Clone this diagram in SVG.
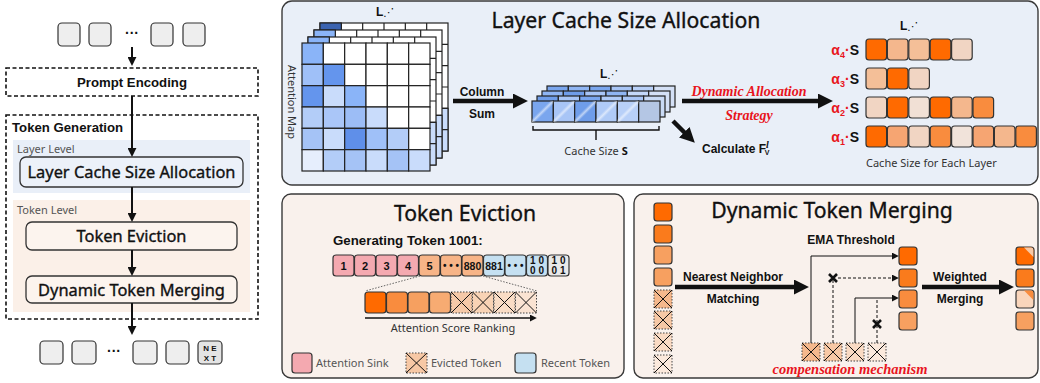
<svg xmlns="http://www.w3.org/2000/svg" xmlns:xlink="http://www.w3.org/1999/xlink" width="1040" height="383" viewBox="0 0 1040 383">
<style>
.tok{fill:#eeeeee;stroke:#333;stroke-width:1.2}
.dash{fill:none;stroke:#111;stroke-width:1.6;stroke-dasharray:4 2.5}
.box{stroke:#333;stroke-width:1.3}
.panel{stroke:#3a3a3a;stroke-width:1.4}
.b{font-family:"Liberation Sans",Arial,sans-serif;font-weight:bold;fill:#111}
.n{font-family:"Noto Sans","Open Sans",sans-serif;fill:#111;stroke:#111;stroke-width:0.35}
.s{font-family:"Noto Sans","Open Sans",sans-serif;fill:#333;font-size:11px}
.red{font-family:"Liberation Serif","Times New Roman",serif;font-weight:bold;font-style:italic;fill:#e8141c}
.c{stroke:#222;stroke-width:1.2}
.k{stroke:#333;stroke-width:1.2}
.ev{stroke:#444;stroke-width:1;stroke-dasharray:1.5 1.5}
.x{fill:none;stroke:#111;stroke-width:1}
.ln{fill:none;stroke:#111}
</style>
<defs>
<marker id="big" viewBox="0 0 14 14" markerUnits="userSpaceOnUse" markerWidth="15" markerHeight="15" refX="1" refY="7" orient="auto"><path d="M0,0L14,7L0,14z" fill="#111"/></marker>
<marker id="mid" viewBox="0 0 8 8" markerUnits="userSpaceOnUse" markerWidth="9" markerHeight="9" refX="1" refY="4" orient="auto"><path d="M0,0L8,4L0,8z" fill="#111"/></marker>
<marker id="sm" viewBox="0 0 6 6" markerUnits="userSpaceOnUse" markerWidth="7" markerHeight="7" refX="1" refY="3" orient="auto"><path d="M0,0L6,3L0,6z" fill="#111"/></marker>
<linearGradient id="gloss" x1="0" y1="0" x2="1" y2="1">
<stop offset="0" stop-color="#fff" stop-opacity="0"/>
<stop offset="0.42" stop-color="#fff" stop-opacity="0"/>
<stop offset="0.5" stop-color="#fff" stop-opacity="0.55"/>
<stop offset="0.58" stop-color="#fff" stop-opacity="0"/>
<stop offset="1" stop-color="#fff" stop-opacity="0"/>
</linearGradient>
<g id="bg6">
<rect x="0" y="0" width="128" height="128" fill="#fff" class="c"/>
<rect x="106.67" y="85.33" width="21.33" height="42.67" fill="#c9dcfb" class="c"/>
<path d="M21.33 0V128M42.67 0V128M64 0V128M85.33 0V128M106.67 0V128M0 21.33H128M0 42.67H128M0 64H128M0 85.33H128M0 106.67H128" class="c" fill="none"/>
</g>
<g id="evx">
<path d="M0 0L21 21M21 0L0 21" class="x"/>
</g>
<g id="mx">
<path d="M0 0L18 18M18 0L0 18" class="x"/>
</g>
</defs>

<!-- LEFT PANEL -->
<g id="input-tokens">
<rect class="tok" x="58" y="23" width="22" height="23" rx="4"/>
<rect class="tok" x="89" y="23" width="22" height="23" rx="4"/>
<text class="b" x="132" y="38" font-size="14" text-anchor="middle">···</text>
<rect class="tok" x="151" y="23" width="22" height="23" rx="4"/>
<rect class="tok" x="183" y="23" width="22" height="23" rx="4"/>
</g>
<g id="prompt-encoding">
<rect class="dash" x="6" y="68" width="252" height="28"/>
<text class="b" x="132" y="87" font-size="13.2" text-anchor="middle">Prompt Encoding</text>
</g>
<g id="token-generation">
<rect class="dash" x="6" y="115" width="252" height="204"/>
<text class="b" x="12" y="132" font-size="13.2">Token Generation</text>
<rect x="13" y="140" width="237" height="53" fill="#e9eff8"/>
<text class="s" x="17" y="153" style="fill:#555">Layer Level</text>
<rect x="13" y="200" width="237" height="112" fill="#fbf0e8"/>
<text class="s" x="17" y="214" style="fill:#555">Token Level</text>
</g>
<g id="left-lcsa">
<rect class="box" x="20" y="157" width="223" height="30" rx="6" fill="#ecf1f9"/>
<text class="n" x="131.5" y="177.5" font-size="16.4" text-anchor="middle" stroke-width="0.3">Layer Cache Size Allocation</text>
</g>
<g id="left-eviction">
<rect class="box" x="26" y="222" width="211" height="28" rx="6" fill="#fcf4ee"/>
<text class="n" x="131.5" y="242" font-size="16.4" text-anchor="middle" stroke-width="0.3">Token Eviction</text>
</g>
<g id="left-merging">
<rect class="box" x="26" y="276" width="211" height="27" rx="6" fill="#fcf4ee"/>
<text class="n" x="131.5" y="295.5" font-size="16.4" text-anchor="middle" stroke-width="0.3">Dynamic Token Merging</text>
</g>
<g id="output-tokens">
<rect class="tok" x="40" y="341" width="23" height="23" rx="4"/>
<rect class="tok" x="72" y="341" width="24" height="23" rx="4"/>
<text class="b" x="114" y="356" font-size="14" text-anchor="middle">···</text>
<rect class="tok" x="133" y="341" width="24" height="23" rx="4"/>
<rect class="tok" x="166" y="341" width="23" height="23" rx="4"/>
<rect class="tok" x="198" y="341" width="24" height="23" rx="4" style="fill:#e4e4e4"/>
<text class="b" x="210" y="351" font-size="8" text-anchor="middle">N E</text>
<text class="b" x="210" y="361" font-size="8" text-anchor="middle">X T</text>
</g>
<g id="left-connectors" class="ln" stroke-width="2">
<line x1="132" y1="47" x2="132" y2="58" marker-end="url(#mid)"/>
<line x1="132" y1="96" x2="132" y2="149" marker-end="url(#mid)"/>
<line x1="132" y1="187" x2="132" y2="214" marker-end="url(#mid)"/>
<line x1="132" y1="250" x2="132" y2="268" marker-end="url(#mid)"/>
<line x1="132" y1="303" x2="132" y2="327" marker-end="url(#mid)"/>
</g>

<!-- TOP PANEL -->
<g id="panel-lcsa">
<rect class="panel" x="282" y="1" width="756" height="184" rx="10" fill="#e9eff8"/>
<text class="n" x="626" y="28" font-size="21.2" text-anchor="middle">Layer Cache Size Allocation</text>
</g>
<g id="attention-map">
<use xlink:href="#bg6" href="#bg6" x="320" y="23"/>
<rect x="320" y="23" width="21.33" height="21.33" fill="#3b63b0" class="c"/>
<use xlink:href="#bg6" href="#bg6" x="314" y="30"/>
<rect x="314" y="30" width="21.33" height="21.33" fill="#8ab4f8" class="c"/>
<use xlink:href="#bg6" href="#bg6" x="308" y="37"/>
<rect x="308" y="37" width="21.33" height="21.33" fill="#8ab4f8" class="c"/>
<g class="c">
<rect x="302" y="43" width="21.33" height="21.33" fill="#8ab4f8"/><rect x="323.33" y="43" width="21.33" height="21.33" fill="#fff"/><rect x="344.67" y="43" width="21.33" height="21.33" fill="#fff"/><rect x="366" y="43" width="21.33" height="21.33" fill="#fff"/><rect x="387.33" y="43" width="21.33" height="21.33" fill="#fff"/><rect x="408.67" y="43" width="21.33" height="21.33" fill="#fff"/>
<rect x="302" y="64.33" width="21.33" height="21.33" fill="#9fc0f8"/><rect x="323.33" y="64.33" width="21.33" height="21.33" fill="#6495ed"/><rect x="344.67" y="64.33" width="21.33" height="21.33" fill="#fff"/><rect x="366" y="64.33" width="21.33" height="21.33" fill="#fff"/><rect x="387.33" y="64.33" width="21.33" height="21.33" fill="#fff"/><rect x="408.67" y="64.33" width="21.33" height="21.33" fill="#fff"/>
<rect x="302" y="85.67" width="21.33" height="21.33" fill="#6495ed"/><rect x="323.33" y="85.67" width="21.33" height="21.33" fill="#c9dcfb"/><rect x="344.67" y="85.67" width="21.33" height="21.33" fill="#8ab4f8"/><rect x="366" y="85.67" width="21.33" height="21.33" fill="#fff"/><rect x="387.33" y="85.67" width="21.33" height="21.33" fill="#fff"/><rect x="408.67" y="85.67" width="21.33" height="21.33" fill="#fff"/>
<rect x="302" y="107" width="21.33" height="21.33" fill="#b3cdf8"/><rect x="323.33" y="107" width="21.33" height="21.33" fill="#aac6f8"/><rect x="344.67" y="107" width="21.33" height="21.33" fill="#9cbdf6"/><rect x="366" y="107" width="21.33" height="21.33" fill="#c9dcfb"/><rect x="387.33" y="107" width="21.33" height="21.33" fill="#fff"/><rect x="408.67" y="107" width="21.33" height="21.33" fill="#fff"/>
<rect x="302" y="128.33" width="21.33" height="21.33" fill="#a5c3f6"/><rect x="323.33" y="128.33" width="21.33" height="21.33" fill="#c9dcfb"/><rect x="344.67" y="128.33" width="21.33" height="21.33" fill="#5f8fe9"/><rect x="366" y="128.33" width="21.33" height="21.33" fill="#9fc0f8"/><rect x="387.33" y="128.33" width="21.33" height="21.33" fill="#b3cdf8"/><rect x="408.67" y="128.33" width="21.33" height="21.33" fill="#fff"/>
<rect x="302" y="149.67" width="21.33" height="21.33" fill="#e6eefd"/><rect x="323.33" y="149.67" width="21.33" height="21.33" fill="#b3cdf8"/><rect x="344.67" y="149.67" width="21.33" height="21.33" fill="#a5c3f6"/><rect x="366" y="149.67" width="21.33" height="21.33" fill="#c9dcfb"/><rect x="387.33" y="149.67" width="21.33" height="21.33" fill="#a5c3f6"/><rect x="408.67" y="149.67" width="21.33" height="21.33" fill="#c9dcfb"/>
</g>
<text class="b" x="376" y="16" font-size="12">L<tspan font-family="DejaVu Sans" font-weight="normal" font-size="11">⋰</tspan></text>
<text class="s" x="0" y="0" transform="translate(288,102) rotate(90)" text-anchor="middle">Attention Map</text>
</g>
<g id="cache-stack">
<g class="c">
<rect x="547" y="86" width="21.33" height="21" fill="#7aa6ee"/><rect x="568.33" y="86" width="21.33" height="21" fill="#8fb5f3"/><rect x="589.67" y="86" width="21.33" height="21" fill="#7aa6ee"/><rect x="611" y="86" width="21.33" height="21" fill="#a8c5f6"/><rect x="632.33" y="86" width="21.33" height="21" fill="#b8d0f8"/><rect x="653.67" y="86" width="21.33" height="21" fill="#d4e0f6"/>
<rect x="542" y="91" width="21.33" height="21" fill="#8fb5f3"/><rect x="563.33" y="91" width="21.33" height="21" fill="#6f9de9"/><rect x="584.67" y="91" width="21.33" height="21" fill="#a8c5f6"/><rect x="606" y="91" width="21.33" height="21" fill="#8fb5f3"/><rect x="627.33" y="91" width="21.33" height="21" fill="#c4d8f9"/><rect x="648.67" y="91" width="21.33" height="21" fill="#d4e0f6"/>
<rect x="537" y="96" width="21.33" height="21" fill="#6f9de9"/><rect x="558.33" y="96" width="21.33" height="21" fill="#a8c5f6"/><rect x="579.67" y="96" width="21.33" height="21" fill="#7aa6ee"/><rect x="601" y="96" width="21.33" height="21" fill="#b0cbf7"/><rect x="622.33" y="96" width="21.33" height="21" fill="#a8c5f6"/><rect x="643.67" y="96" width="21.33" height="21" fill="#c9daf5"/>
<rect x="532" y="101" width="21.33" height="21" fill="#7aa6ee"/><rect x="553.33" y="101" width="21.33" height="21" fill="#a8c5f6"/><rect x="574.67" y="101" width="21.33" height="21" fill="#6f9de9"/><rect x="596" y="101" width="21.33" height="21" fill="#b0cbf7"/><rect x="617.33" y="101" width="21.33" height="21" fill="#b8d0f8"/><rect x="638.67" y="101" width="21.33" height="21" fill="#b4c6e4"/>
</g>
<g fill="url(#gloss)">
<rect x="532" y="101" width="21.33" height="21"/><rect x="553.33" y="101" width="21.33" height="21"/><rect x="574.67" y="101" width="21.33" height="21"/><rect x="596" y="101" width="21.33" height="21"/><rect x="617.33" y="101" width="21.33" height="21"/>
</g>
<path d="M533 126V130H659V126M596 130V140" class="ln" stroke-width="1.4"/>
<text class="s" x="596" y="155" text-anchor="middle">Cache Size <tspan font-weight="bold" fill="#111">S</tspan></text>
<text class="b" x="600" y="78" font-size="12">L<tspan font-family="DejaVu Sans" font-weight="normal" font-size="11">⋰</tspan></text>
</g>
<g id="layer-bars">
<text class="b" x="900" y="30" font-size="12">L<tspan font-family="DejaVu Sans" font-weight="normal" font-size="11">⋰</tspan></text>
<g class="k">
<rect x="866" y="39" width="20.6" height="21" rx="3" fill="#ff6a00"/><rect x="887.4" y="39" width="20.6" height="21" rx="3" fill="#f4b78d"/><rect x="908.8" y="39" width="20.6" height="21" rx="3" fill="#f4bf98"/><rect x="930.2" y="39" width="20.6" height="21" rx="3" fill="#ff6a00"/><rect x="951.6" y="39" width="20.6" height="21" rx="3" fill="#f1d5c3"/>
<rect x="866" y="68" width="20.6" height="21" rx="3" fill="#f4bf98"/><rect x="887.4" y="68" width="20.6" height="21" rx="3" fill="#ff6a00"/><rect x="908.8" y="68" width="20.6" height="21" rx="3" fill="#f1d5c3"/>
<rect x="866" y="97" width="20.6" height="21" rx="3" fill="#f1d5c3"/><rect x="887.4" y="97" width="20.6" height="21" rx="3" fill="#ff6a00"/><rect x="908.8" y="97" width="20.6" height="21" rx="3" fill="#f1e0d5"/><rect x="930.2" y="97" width="20.6" height="21" rx="3" fill="#ff6a00"/><rect x="951.6" y="97" width="20.6" height="21" rx="3" fill="#f4b78d"/><rect x="973" y="97" width="20.6" height="21" rx="3" fill="#f98c3e"/>
<rect x="866" y="126" width="20.6" height="21" rx="3" fill="#ff6a00"/><rect x="887.4" y="126" width="20.6" height="21" rx="3" fill="#f6a572"/><rect x="908.8" y="126" width="20.6" height="21" rx="3" fill="#f1d5c3"/><rect x="930.2" y="126" width="20.6" height="21" rx="3" fill="#f98c3e"/><rect x="951.6" y="126" width="20.6" height="21" rx="3" fill="#f1e3da"/><rect x="973" y="126" width="20.6" height="21" rx="3" fill="#f6a572"/><rect x="994.4" y="126" width="20.6" height="21" rx="3" fill="#f4b78d"/><rect x="1015.8" y="126" width="20.6" height="21" rx="3" fill="#f98c3e"/>
</g>
<g class="b" font-size="14" text-anchor="end">
<text x="859" y="55"><tspan fill="#e8141c">α</tspan><tspan fill="#e8141c" font-size="9" dy="3">4</tspan><tspan fill="#e8141c" dy="-3">·</tspan>S</text>
<text x="859" y="84"><tspan fill="#e8141c">α</tspan><tspan fill="#e8141c" font-size="9" dy="3">3</tspan><tspan fill="#e8141c" dy="-3">·</tspan>S</text>
<text x="859" y="113"><tspan fill="#e8141c">α</tspan><tspan fill="#e8141c" font-size="9" dy="3">2</tspan><tspan fill="#e8141c" dy="-3">·</tspan>S</text>
<text x="859" y="142"><tspan fill="#e8141c">α</tspan><tspan fill="#e8141c" font-size="9" dy="3">1</tspan><tspan fill="#e8141c" dy="-3">·</tspan>S</text>
</g>
<text class="s" x="866" y="167">Cache Size for Each Layer</text>
</g>
<g id="lcsa-labels">
<text class="b" x="482" y="96" font-size="12" text-anchor="middle">Column</text>
<text class="b" x="482" y="118" font-size="12" text-anchor="middle">Sum</text>
<text class="red" x="749" y="96" font-size="14" text-anchor="middle">Dynamic Allocation</text>
<text class="red" x="749" y="120" font-size="14" text-anchor="middle">Strategy</text>
<text class="b" x="702" y="153" font-size="12">Calculate F<tspan font-style="italic" font-family="Liberation Serif" font-size="10" dy="-5">l</tspan><tspan font-size="7" dx="-4" dy="7">V</tspan></text>
</g>

<!-- TOKEN EVICTION -->
<g id="panel-eviction">
<rect class="panel" x="282" y="194" width="342" height="184" rx="9" fill="#f9f1ec"/>
<text class="n" x="465" y="221" font-size="21.2" text-anchor="middle">Token Eviction</text>
<text class="b" x="333" y="245" font-size="13.3">Generating Token 1001:</text>
<g class="k">
<rect x="333" y="255" width="21" height="21" rx="3" fill="#f4a9b0"/><rect x="354.5" y="255" width="21" height="21" rx="3" fill="#f4a9b0"/><rect x="376" y="255" width="21" height="21" rx="3" fill="#f4a9b0"/><rect x="397.5" y="255" width="21" height="21" rx="3" fill="#f4a9b0"/>
<rect x="419" y="255" width="21" height="21" rx="3" fill="#f7b487"/><rect x="440.5" y="255" width="21" height="21" rx="3" fill="#f7b487"/><rect x="462" y="255" width="21" height="21" rx="3" fill="#f7b487"/>
<rect x="483.5" y="255" width="21" height="21" rx="3" fill="#c5e0f1"/><rect x="505" y="255" width="21" height="21" rx="3" fill="#c5e0f1"/><rect x="526.5" y="255" width="21" height="21" rx="3" fill="#c5e0f1"/>
<rect x="548" y="255" width="21" height="21" rx="3" fill="#e9e9e9"/>
</g>
<g class="b" font-size="11" text-anchor="middle">
<text x="343.5" y="270">1</text><text x="365" y="270">2</text><text x="386.5" y="270">3</text><text x="408" y="270">4</text><text x="429.5" y="270">5</text>
<text x="451" y="269" font-size="10">• • •</text>
<text x="472.5" y="270" font-size="10.5">880</text><text x="494" y="270" font-size="10.5">881</text>
<text x="515.5" y="269" font-size="10">• • •</text>
<text x="537" y="264" font-size="10">1 0</text><text x="537" y="274" font-size="10">0 0</text>
<text x="558.5" y="264" font-size="10">1 0</text><text x="558.5" y="274" font-size="10">0 1</text>
</g>
<path d="M420 276L365 291M483 276L537 291" fill="none" stroke="#555" stroke-width="0.9" stroke-dasharray="1.5 1.5"/>
<g class="k">
<rect x="365" y="292" width="21" height="21" rx="3" fill="#ff6a00"/><rect x="386.5" y="292" width="21" height="21" rx="3" fill="#f98c3e"/><rect x="408" y="292" width="21" height="21" rx="3" fill="#f6a060"/><rect x="429.5" y="292" width="21" height="21" rx="3" fill="#f7ab72"/>
</g>
<g class="ev">
<rect x="451" y="292" width="21" height="21" fill="#f5c9a8"/><rect x="472.5" y="292" width="21" height="21" fill="#f8d3b5"/><rect x="494" y="292" width="21" height="21" fill="#f9dcc5"/><rect x="515.5" y="292" width="21" height="21" fill="#fae3d2"/>
</g>
<use xlink:href="#evx" href="#evx" x="451" y="292"/><use xlink:href="#evx" href="#evx" x="472.5" y="292"/><use xlink:href="#evx" href="#evx" x="494" y="292"/><use xlink:href="#evx" href="#evx" x="515.5" y="292"/>
<line x1="365" y1="318" x2="531" y2="318" class="ln" stroke-width="1.3" marker-end="url(#sm)"/>
<text class="s" x="453" y="332" text-anchor="middle">Attention Score Ranking</text>
<rect x="292" y="353" width="20" height="20" rx="3" fill="#f4a9b0" class="k"/>
<text class="s" x="316" y="367" style="fill:#555">Attention Sink</text>
<rect x="406" y="353" width="21" height="20" fill="#f7c8a5" class="ev"/>
<path d="M406 353L427 373M427 353L406 373" class="x"/>
<text class="s" x="431" y="367" style="fill:#555">Evicted Token</text>
<rect x="515" y="353" width="21" height="20" rx="3" fill="#c5e0f1" class="k"/>
<text class="s" x="541" y="367" style="fill:#555">Recent Token</text>
</g>

<!-- DYNAMIC TOKEN MERGING -->
<g id="panel-merging">
<rect class="panel" x="634" y="194" width="404" height="184" rx="9" fill="#f9f1ec"/>
<text class="n" x="832" y="218" font-size="21.2" text-anchor="middle">Dynamic Token Merging</text>
<g class="k">
<rect x="654" y="203" width="18" height="18" rx="3" fill="#ff6a00"/>
<rect x="654" y="225" width="18" height="18" rx="3" fill="#fa7b1c"/>
<rect x="654" y="246" width="18" height="18" rx="3" fill="#f7a060"/>
<rect x="654" y="268" width="18" height="18" rx="3" fill="#f7a060"/>
</g>
<g class="ev">
<rect x="654" y="290" width="18" height="18" fill="#f5b88c"/>
<rect x="654" y="311" width="18" height="18" fill="#f7c8a5"/>
<rect x="654" y="333" width="18" height="18" fill="#f9dac3"/>
<rect x="654" y="355" width="18" height="18" fill="#fbe9dc"/>
</g>
<use xlink:href="#mx" href="#mx" x="654" y="290"/><use xlink:href="#mx" href="#mx" x="654" y="311"/><use xlink:href="#mx" href="#mx" x="654" y="333"/><use xlink:href="#mx" href="#mx" x="654" y="355"/>
<text class="b" x="733" y="281" font-size="12" text-anchor="middle">Nearest Neighbor</text>
<text class="b" x="733" y="303" font-size="12" text-anchor="middle">Matching</text>
<text class="b" x="851" y="244" font-size="12" text-anchor="middle">EMA Threshold</text>
<text class="b" x="960" y="281" font-size="12" text-anchor="middle">Weighted</text>
<text class="b" x="960" y="303" font-size="12" text-anchor="middle">Merging</text>
<text class="red" x="850" y="374" font-size="14.5" text-anchor="middle">compensation mechanism</text>
</g>
<g id="merge-mid">
<g class="k">
<rect x="899" y="247" width="18" height="18" rx="3" fill="#ff6a00"/>
<rect x="899" y="269" width="18" height="18" rx="3" fill="#fa7b1c"/>
<rect x="899" y="290" width="18" height="18" rx="3" fill="#f98c3e"/>
<rect x="899" y="312" width="18" height="18" rx="3" fill="#f7a060"/>
</g>
</g>
<g id="merge-candidates">
<g class="ev">
<rect x="802" y="343" width="18" height="18" fill="#f5b88c"/>
<rect x="824" y="343" width="18" height="18" fill="#f7c8a5"/>
<rect x="846" y="343" width="18" height="18" fill="#f9dac3"/>
<rect x="868" y="343" width="18" height="18" fill="#fbe9dc"/>
</g>
<use xlink:href="#mx" href="#mx" x="802" y="343"/><use xlink:href="#mx" href="#mx" x="824" y="343"/><use xlink:href="#mx" href="#mx" x="846" y="343"/><use xlink:href="#mx" href="#mx" x="868" y="343"/>
</g>
<g id="merge-out">
<g class="k">
<rect x="1016" y="247" width="18" height="18" rx="3" fill="#ff6a00"/>
<rect x="1016" y="269" width="18" height="18" rx="3" fill="#fa7b1c"/>
<rect x="1016" y="290" width="18" height="18" rx="3" fill="#f9d5bb"/>
<rect x="1016" y="312" width="18" height="18" rx="3" fill="#f7a060"/>
</g>
<path d="M1024 247.6H1031a2.4 2.4 0 0 1 2.4 2.4V257z" fill="#f7c8a5"/>
<path d="M1024 290.6H1031a2.4 2.4 0 0 1 2.4 2.4V300z" fill="#f98c3e"/>
</g>
<g id="connectors" class="ln">
<line x1="453" y1="101" x2="514" y2="101" stroke-width="4.5" marker-end="url(#big)"/>
<line x1="682" y1="101" x2="819" y2="101" stroke-width="4.5" marker-end="url(#big)"/>
<line x1="673" y1="121" x2="685" y2="133" stroke-width="4.5" marker-end="url(#big)"/>
<line x1="675" y1="287" x2="795" y2="287" stroke-width="4.5" marker-end="url(#big)"/>
<line x1="922" y1="287" x2="1000" y2="287" stroke-width="4.5" marker-end="url(#big)"/>
<path d="M811 343V256H893" stroke-width="1" marker-end="url(#sm)"/>
<path d="M855 343V298H893" stroke-width="1" marker-end="url(#sm)"/>
<path d="M833 343V279" stroke-width="1" stroke-dasharray="3 2"/>
<path d="M838 278H893" stroke-width="1" stroke-dasharray="3 2" marker-end="url(#sm)"/>
<path d="M877 343V299" stroke-width="1" stroke-dasharray="3 2"/>
<path d="M829 274L837 282M837 274L829 282M873 320L881 328M881 320L873 328" stroke-width="2.6"/>
</g>
</svg>
